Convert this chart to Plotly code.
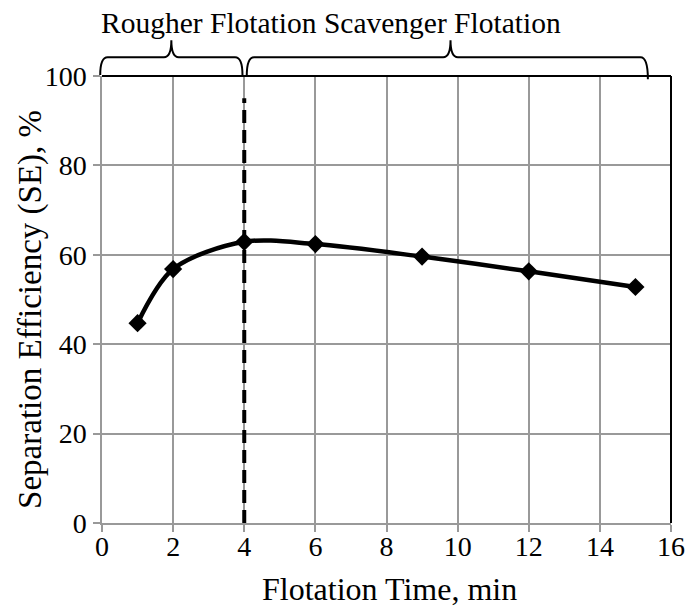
import plotly.graph_objects as go

# Data
flotation_time = [1, 2, 4, 6, 9, 12, 15]
separation_efficiency = [44.7, 56.8, 62.9, 62.4, 59.6, 56.3, 52.8]
divider_x = [4, 4]
divider_y = [0, 95]
x_ticks = [0, 2, 4, 6, 8, 10, 12, 14, 16]
y_ticks = [0, 20, 40, 60, 80, 100]
stage_label = "Rougher Flotation Scavenger Flotation"
x_title = "Flotation Time, min"
y_title = "Separation Efficiency (SE), %"
# brace extents in data-x units: (start, tip, end)
rougher_brace = (-0.05, 1.95, 3.95)
scavenger_brace = (4.07, 9.8, 15.35)

FONT = "Liberation Serif, Times New Roman, serif"
XMAX = 16.0

fig = go.Figure()
fig.add_trace(go.Scatter(
    x=divider_x, y=divider_y, mode="lines",
    line=dict(color="black", width=4, dash="13px,7px"),
    showlegend=False, hoverinfo="skip"))
fig.add_trace(go.Scatter(
    x=flotation_time, y=separation_efficiency, mode="lines+markers",
    line=dict(color="black", width=4.5, shape="spline", smoothing=0.9),
    marker=dict(symbol="diamond", size=14, color="black"),
    showlegend=False))


def brace_path(b, yb, yh, yt, yb_right=None):
    x0, xm, x1 = (v / XMAX for v in b)
    if yb_right is None:
        yb_right = yb
    r = 0.013
    return (f"M {x0},{yb} Q {x0},{yh} {x0 + r},{yh} "
            f"L {xm - r},{yh} Q {xm},{yh} {xm},{yt} "
            f"Q {xm},{yh} {xm + r},{yh} "
            f"L {x1 - r},{yh} Q {x1},{yh} {x1},{yb_right}")


shapes = [
    dict(type="path", xref="paper", yref="paper",
         path=brace_path(rougher_brace, 1.002, 1.042, 1.08),
         line=dict(color="black", width=2)),
    dict(type="path", xref="paper", yref="paper",
         path=brace_path(scavenger_brace, 1.0, 1.042, 1.08, 0.993),
         line=dict(color="black", width=2)),
    dict(type="line", xref="paper", yref="paper", x0=0, x1=1, y0=1, y1=1,
         line=dict(color="black", width=2)),
    dict(type="line", xref="paper", yref="paper", x0=1, x1=1, y0=0, y1=1,
         line=dict(color="black", width=2)),
]

annotations = [
    dict(text=stage_label, xref="paper", yref="paper", x=-0.006, y=1.119,
         xanchor="left", yanchor="middle", showarrow=False,
         font=dict(family=FONT, size=29.5, color="black")),
    dict(text=x_title, xref="paper", yref="paper", x=0.5045, y=-0.1477,
         xanchor="center", yanchor="middle", showarrow=False,
         font=dict(family=FONT, size=32, color="black")),
    dict(text=y_title, xref="paper", yref="paper", x=-0.1248, y=0.479,
         xanchor="center", yanchor="middle", showarrow=False, textangle=-90,
         font=dict(family=FONT, size=33, color="black")),
]

fig.update_layout(
    width=688, height=606,
    margin=dict(l=102, r=17, t=76, b=83),
    paper_bgcolor="white", plot_bgcolor="white",
    font=dict(family=FONT, size=28, color="black"),
    shapes=shapes, annotations=annotations,
    xaxis=dict(range=[0, 16], tickvals=x_ticks, showgrid=True,
               gridcolor="#999999", gridwidth=1.5, showline=True,
               linecolor="#999999", linewidth=1.5, ticks="outside",
               ticklen=7, tickcolor="#999999", tickwidth=1.5,
               zeroline=False, ticklabelstandoff=-9,
               ticklabeloverflow="allow", automargin=False),
    yaxis=dict(range=[0, 100], tickvals=y_ticks, showgrid=True,
               gridcolor="#999999", gridwidth=1.5, showline=True,
               linecolor="#999999", linewidth=1.5, ticks="outside",
               ticklen=7, tickcolor="#999999", tickwidth=1.5,
               zeroline=False, ticklabelstandoff=1, automargin=False),
)

fig.write_html(
    "out.html",
    config={"displayModeBar": False},
    post_script="document.body.style.margin='0';"
                "document.body.style.overflow='hidden';")
